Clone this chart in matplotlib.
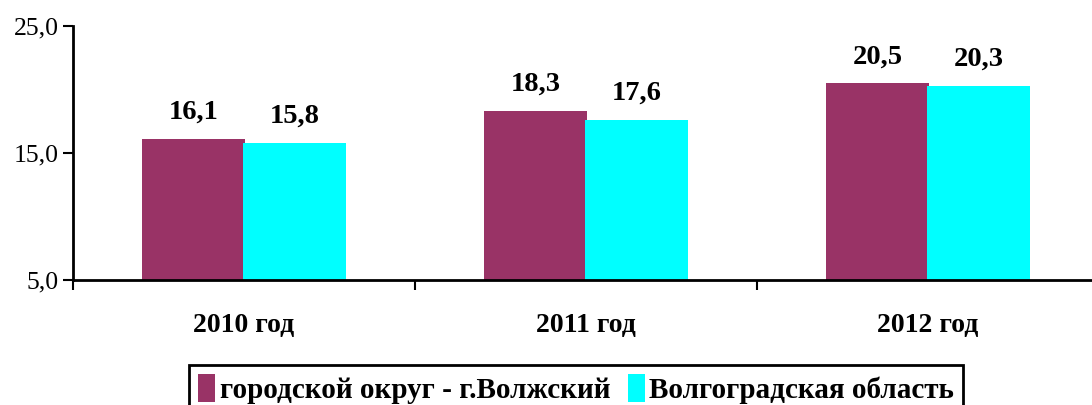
import numpy as np
import matplotlib.pyplot as plt
from matplotlib.patches import Patch

# данные
years = ["2010 год", "2011 год", "2012 год"]
volzhsky = [16.1, 18.3, 20.5]
oblast = [15.8, 17.6, 20.3]
series_names = ["городской округ - г.Волжский", "Волгоградская область"]
y_ticks = [5.0, 15.0, 25.0]

plt.rcParams['font.family'] = ['Liberation Serif', 'DejaVu Serif']

fig = plt.figure(figsize=(10.92, 4.05), dpi=100)
ax = fig.add_axes([73 / 1092, 1 - 280 / 405, 1026 / 1092, 254 / 405])

x = np.arange(len(years)) + 0.5
w = 0.3
b1 = ax.bar(x - w / 2 + 0.003, np.array(volzhsky) - 5, w, bottom=5, color="#993366")
b2 = ax.bar(x + w / 2 - 0.003, np.array(oblast) - 5, w, bottom=5, color="#00FFFF")

for bars, vals in ((b1, volzhsky), (b2, oblast)):
    for bar, v in zip(bars, vals):
        ax.text(bar.get_x() + bar.get_width() / 2, v + 1.1, f"{v:.1f}".replace(".", ","),
                ha="center", va="bottom", fontsize=20.5, fontweight="bold")

ax.set_xlim(0, 3)
ax.set_ylim(5, 25)
ax.set_yticks(y_ticks)
ax.set_yticklabels([f"{t:.1f}".replace(".", ",") for t in y_ticks], fontsize=18.5)
ax.set_xticks([0, 1, 2, 3])
ax.set_xticklabels([])
ax.set_xticks(x, minor=True)
ax.set_xticklabels(years, minor=True, fontsize=20, fontweight="bold")
ax.tick_params(axis="x", which="minor", length=0, pad=24)
ax.tick_params(axis="x", which="major", length=7, width=1.5, direction="out")
ax.tick_params(axis="y", length=7, width=1.5, direction="out", pad=3)

for s in ("top", "right"):
    ax.spines[s].set_visible(False)
for s in ("left", "bottom"):
    ax.spines[s].set_linewidth(2)

handles = [Patch(facecolor="#993366"), Patch(facecolor="#00FFFF")]
leg = fig.legend(handles, series_names, loc="upper center", bbox_to_anchor=(576 / 1092, 1 - 365 / 405),
                 ncol=2, frameon=True, fancybox=False, edgecolor="black", framealpha=1,
                 prop={"size": 21, "weight": "bold"}, handlelength=0.6, handleheight=1.1,
                 handletextpad=0.15, columnspacing=0.6, borderpad=0.3, borderaxespad=0)
leg.get_frame().set_linewidth(2)

fig.savefig("out.png", dpi=100)
